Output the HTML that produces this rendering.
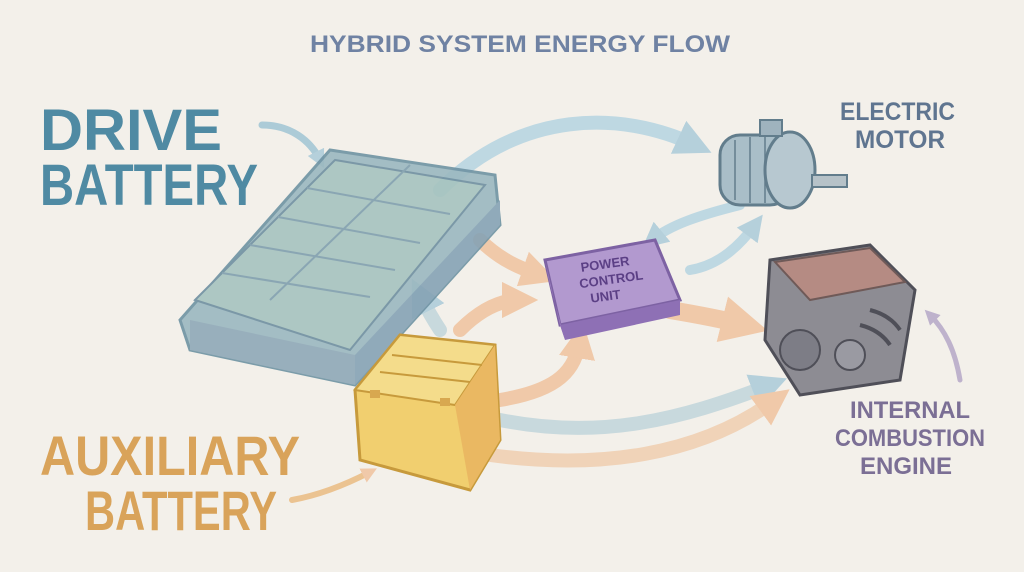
<!DOCTYPE html>
<html><head><meta charset="utf-8"><style>
html,body{margin:0;padding:0;background:#f3f0ea;}
svg{display:block}
text{font-family:"Liberation Sans",sans-serif;font-weight:bold;}
</style></head><body>
<svg width="1024" height="572" viewBox="0 0 1024 572" xmlns="http://www.w3.org/2000/svg">
<defs>
<marker id="ab" viewBox="0 0 10 10" refX="5" refY="5" markerWidth="2.6" markerHeight="2.6" orient="auto"><path d="M0,0L10,5L0,10z" fill="#9cc3d6"/></marker>
<marker id="ao" viewBox="0 0 10 10" refX="5" refY="5" markerWidth="2.6" markerHeight="2.6" orient="auto"><path d="M0,0L10,5L0,10z" fill="#f0b98e"/></marker>
<marker id="ap" viewBox="0 0 10 10" refX="5" refY="5" markerWidth="3" markerHeight="3" orient="auto"><path d="M0,0L10,5L0,10z" fill="#a899c0"/></marker>
</defs>
<rect width="1024" height="572" fill="#f3f0ea"/>
<text x="310" y="52" textLength="420" lengthAdjust="spacingAndGlyphs" font-size="24" fill="#6f82a3">HYBRID SYSTEM ENERGY FLOW</text>
<g font-size="58" fill="#4f8aa3"><text x="40" y="150" textLength="182" lengthAdjust="spacingAndGlyphs">DRIVE</text><text x="40" y="205" textLength="218" lengthAdjust="spacingAndGlyphs">BATTERY</text></g>
<g font-size="56" fill="#d9a35a"><text x="40" y="475" textLength="260" lengthAdjust="spacingAndGlyphs">AUXILIARY</text><text x="85" y="530" textLength="192" lengthAdjust="spacingAndGlyphs">BATTERY</text></g>
<g font-size="25" fill="#5f7590"><text x="840" y="120" textLength="115" lengthAdjust="spacingAndGlyphs">ELECTRIC</text><text x="855" y="148" textLength="90" lengthAdjust="spacingAndGlyphs">MOTOR</text></g>
<g font-size="24" fill="#7b6f95"><text x="850" y="418" textLength="120" lengthAdjust="spacingAndGlyphs">INTERNAL</text><text x="835" y="446" textLength="150" lengthAdjust="spacingAndGlyphs">COMBUSTION</text><text x="860" y="474" textLength="92" lengthAdjust="spacingAndGlyphs">ENGINE</text></g>
<g fill="none" stroke-linecap="round" stroke-width="14" opacity="0.7">
<path d="M440,190 C520,110 620,110 695,145" stroke="#a9cfe0" marker-end="url(#ab)"/>
<path d="M262,125 C290,125 310,140 320,160" stroke="#8fbccf" stroke-width="7" marker-end="url(#ab)"/>
<path d="M740,205 C700,215 670,225 652,240" stroke="#a9cfe0" stroke-width="10" marker-end="url(#ab)"/>
<path d="M690,270 C720,265 740,245 755,225" stroke="#a9cfe0" stroke-width="10" marker-end="url(#ab)"/>
<path d="M480,240 C500,260 520,268 540,275" stroke="#f0b98e" marker-end="url(#ao)"/>
<path d="M460,330 C480,310 500,300 520,300" stroke="#f0b98e" marker-end="url(#ao)"/>
<path d="M440,330 C430,315 425,305 420,295" stroke="#b7d0d8" marker-end="url(#ab)"/>
<path d="M500,400 C560,390 575,370 580,340" stroke="#f0b98e" marker-end="url(#ao)"/>
<path d="M670,310 C700,315 725,320 745,325" stroke="#f0b98e" stroke-width="18" marker-end="url(#ao)"/>
<path d="M500,420 C600,440 680,420 770,385" stroke="#b7d0d8" marker-end="url(#ab)"/>
<path d="M490,455 C600,470 700,455 775,400" stroke="#f0c7a4" marker-end="url(#ao)"/>
<path d="M292,500 C320,495 345,485 370,472" stroke="#e9b06c" stroke-width="6" marker-end="url(#ao)"/>
<path d="M960,380 C955,350 945,330 930,315" stroke="#a899c0" stroke-width="5" marker-end="url(#ap)"/>
</g>
<g opacity="0.9">
<path d="M180,320 L330,150 L495,175 L500,225 L355,385 L190,350 Z" fill="#9bb8c0" stroke="#6f93a3" stroke-width="3"/>
<path d="M195,300 L335,160 L485,185 L350,350 Z" fill="#a6c3bf" stroke="#6f8fa0" stroke-width="2"/>
<g stroke="#7f9fae" stroke-width="2" fill="none">
<path d="M222,273 L370,297"/><path d="M250,245 L395,270"/><path d="M278,217 L420,243"/><path d="M307,188 L450,214"/>
<path d="M270,300 L410,165"/>
</g>
<path d="M190,320 L355,355 L355,385 L190,350 Z" fill="#8fa9b8"/>
<path d="M355,355 L500,200 L500,225 L355,385 Z" fill="#86a3b5"/>
</g>
<g>
<rect x="720" y="135" width="70" height="70" rx="20" fill="#a9bec8" stroke="#627d8c" stroke-width="3"/>
<ellipse cx="790" cy="170" rx="25" ry="38" fill="#b7c8d0" stroke="#627d8c" stroke-width="3"/>
<rect x="760" y="120" width="22" height="16" fill="#9fb3be" stroke="#627d8c" stroke-width="2"/>
<rect x="812" y="175" width="35" height="12" fill="#b6c2c8" stroke="#627d8c" stroke-width="2"/>
<g stroke="#627d8c" stroke-width="1.5"><line x1="735" y1="140" x2="735" y2="200"/><line x1="750" y1="137" x2="750" y2="203"/><line x1="765" y1="137" x2="765" y2="203"/></g>
</g>
<path d="M545,260 L655,240 L680,300 L560,325 Z" fill="#b299cf" stroke="#7d62a3" stroke-width="3"/>
<path d="M545,260 L560,325 L565,340 L550,285 Z" fill="#9c7fc0"/>
<path d="M560,325 L680,300 L680,315 L565,340 Z" fill="#8e70b5"/>
<g font-size="13" fill="#5b3f85" text-anchor="middle" transform="rotate(-8 610 285)"><text x="608" y="268">POWER</text><text x="612" y="284">CONTROL</text><text x="604" y="300">UNIT</text></g>
<g>
<path d="M770,260 L870,245 L915,290 L900,380 L800,395 L765,340 Z" fill="#8d8c93" stroke="#4f4f58" stroke-width="3"/>
<path d="M775,262 L870,248 L905,282 L810,300 Z" fill="#b58b83" stroke="#6f5a58" stroke-width="2"/>
<circle cx="800" cy="350" r="20" fill="#7d7d86" stroke="#4f4f58" stroke-width="2"/>
<circle cx="850" cy="355" r="15" fill="#9a9aa2" stroke="#4f4f58" stroke-width="2"/>
<g stroke="#4f4f58" stroke-width="4" fill="none"><path d="M870,310 q20,5 30,20"/><path d="M860,325 q20,5 30,20"/></g>
</g>
<g>
<path d="M355,390 L400,335 L495,345 L500,440 L470,490 L360,460 Z" fill="#f1cf6f" stroke="#c79a3c" stroke-width="3"/>
<path d="M355,390 L400,335 L495,345 L455,405 Z" fill="#f4dc8b" stroke="#c79a3c" stroke-width="2"/>
<path d="M455,405 L495,345 L500,440 L470,490 Z" fill="#eab862"/>
<g stroke="#c79a3c" stroke-width="2"><line x1="380" y1="372" x2="470" y2="382"/><line x1="392" y1="355" x2="482" y2="365"/></g>
<rect x="370" y="390" width="10" height="8" fill="#d8a850"/><rect x="440" y="398" width="10" height="8" fill="#d8a850"/>
</g>
</svg>
</body></html>
